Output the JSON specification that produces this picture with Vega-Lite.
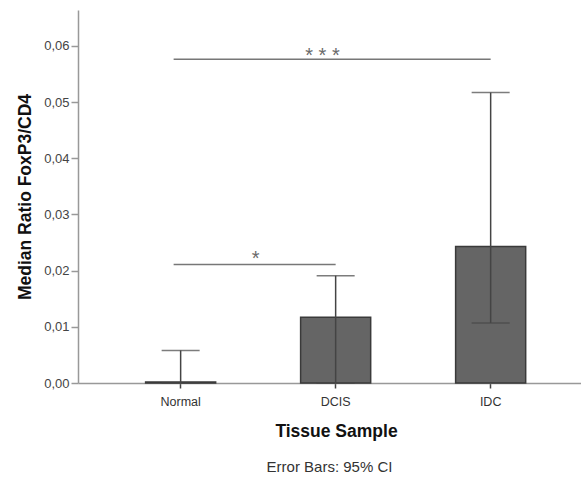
{
  "$schema": "https://vega.github.io/schema/vega-lite/v6.json",
  "width": 503,
  "height": 373,
  "autosize": {"type": "none"},
  "padding": {"left": 78, "top": 10, "right": 0, "bottom": 96},
  "background": "white",
  "config": {
    "font": "Liberation Sans",
    "view": {"stroke": null},
    "axis": {"grid": false}
  },
  "title": {
    "text": "Error Bars: 95% CI",
    "orient": "bottom",
    "anchor": "middle",
    "fontSize": 15,
    "fontWeight": "normal",
    "color": "#333333",
    "offset": 20
  },
  "datasets": {
    "bars": [
      {"tissue": "Normal", "median": 0.0002, "lo": 0.0, "hi": 0.0058},
      {"tissue": "DCIS", "median": 0.0117, "lo": 0.0, "hi": 0.0191},
      {"tissue": "IDC", "median": 0.0243, "lo": 0.0107, "hi": 0.0517}
    ],
    "sig": [
      {"from": "Normal", "to": "DCIS", "y": 0.0211, "label": "*", "ty": 0.0221},
      {"from": "Normal", "to": "IDC", "y": 0.05765, "label": "* * *", "ty": 0.0583}
    ]
  },
  "layer": [
    {
      "data": {"name": "bars"},
      "mark": {"type": "bar", "fill": "#656565", "stroke": "#3a3a3a", "strokeWidth": 1.5},
      "encoding": {
        "x": {
          "field": "tissue",
          "type": "nominal",
          "scale": {"domain": ["Normal", "DCIS", "IDC"], "paddingInner": 0.548, "paddingOuter": 0.3965, "align": 0.55},
          "axis": {
            "title": "Tissue Sample",
            "labelAngle": 0,
            "labelFontSize": 12.5,
            "labelColor": "#333333",
            "labelPadding": 7,
            "titleFontSize": 17.5,
            "titleFontWeight": "bold",
            "titleColor": "#111111",
            "titlePadding": 15,
            "titleX": 258,
            "domainColor": "#999999",
            "domainWidth": 1.5,
            "tickColor": "#444444",
            "tickWidth": 1.5,
            "tickSize": 5
          }
        },
        "y": {
          "field": "median",
          "type": "quantitative",
          "scale": {"domain": [0, 0.0664], "nice": false},
          "axis": {
            "title": "Median Ratio FoxP3/CD4",
            "values": [0, 0.01, 0.02, 0.03, 0.04, 0.05, 0.06],
            "labelExpr": "replace(format(datum.value, '.2f'), '.', ',')",
            "labelFontSize": 13,
            "labelColor": "#444444",
            "labelPadding": 2,
            "titleFontSize": 17.5,
            "titleFontWeight": "bold",
            "titleColor": "#111111",
            "titlePadding": 9,
            "domainColor": "#999999",
            "domainWidth": 1.5,
            "tickColor": "#999999",
            "tickWidth": 1.5,
            "tickSize": 7
          }
        }
      }
    },
    {
      "data": {"name": "bars"},
      "mark": {"type": "rule", "color": "#444444", "strokeWidth": 1.5},
      "encoding": {
        "x": {"field": "tissue", "type": "nominal"},
        "y": {"field": "lo", "type": "quantitative"},
        "y2": {"field": "hi"}
      }
    },
    {
      "data": {"name": "bars"},
      "mark": {"type": "tick", "color": "#444444", "thickness": 1.5, "size": 38, "orient": "horizontal"},
      "encoding": {
        "x": {"field": "tissue", "type": "nominal"},
        "y": {"field": "hi", "type": "quantitative"}
      }
    },
    {
      "data": {"name": "bars"},
      "mark": {"type": "tick", "color": "#444444", "thickness": 1.5, "size": 38, "orient": "horizontal"},
      "encoding": {
        "x": {"field": "tissue", "type": "nominal"},
        "y": {"field": "lo", "type": "quantitative"}
      }
    },
    {
      "data": {"name": "sig"},
      "mark": {"type": "rule", "color": "#777777", "strokeWidth": 1.5},
      "encoding": {
        "x": {"field": "from", "type": "nominal", "bandPosition": 0.4},
        "x2": {"field": "to"},
        "y": {"field": "y", "type": "quantitative"}
      }
    },
    {
      "data": {"name": "sig"},
      "transform": [{"filter": "datum.label === '*'"}],
      "mark": {"type": "text", "color": "#6a6a6a", "fontSize": 20, "baseline": "middle", "align": "center"},
      "encoding": {
        "x": {"field": "from", "type": "nominal", "bandPosition": 1.57},
        "y": {"field": "ty", "type": "quantitative"},
        "text": {"field": "label"}
      }
    },
    {
      "data": {"name": "sig"},
      "transform": [{"filter": "datum.label !== '*'"}],
      "mark": {"type": "text", "color": "#6a6a6a", "fontSize": 20, "baseline": "middle", "align": "center"},
      "encoding": {
        "x": {"field": "to", "type": "nominal", "bandPosition": -1.9},
        "y": {"field": "ty", "type": "quantitative"},
        "text": {"field": "label"}
      }
    }
  ]
}
